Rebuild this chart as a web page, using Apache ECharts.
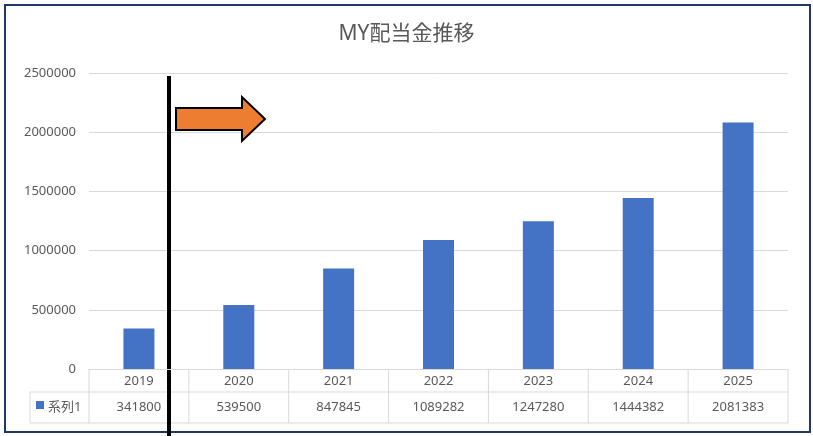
<!DOCTYPE html>
<html>
<head>
<meta charset="utf-8">
<script src="https://cdn.jsdelivr.net/npm/echarts@6/dist/echarts.min.js"></script>
<style>
  html, body { margin: 0; padding: 0; background: #fff; }
  #chart { width: 813px; height: 436px; }
</style>
</head>
<body>
<div id="chart"></div>
<script>
const title = 'MY配当金推移'
const seriesName = '系列1'
const years = ['2019', '2020', '2021', '2022', '2023', '2024', '2025']
const amounts = [341800, 539500, 847845, 1089282, 1247280, 1444382, 2081383]

const font = '"Noto Sans", "Noto Sans CJK JP", sans-serif'
const textColor = '#595959'
const lineColor = '#d9d9d9'

const chart = echarts.init(document.getElementById('chart'))

chart.setOption({
    animation: false,
    backgroundColor: '#fff',
    textStyle: { fontFamily: font },
    title: {
        text: title,
        left: 'center',
        top: 19,
        textStyle: { fontSize: 21, fontWeight: 'normal', color: textColor, fontFamily: font }
    },
    grid: { left: 89, right: 25, top: 73, bottom: 67 },
    xAxis: {
        type: 'category',
        data: years,
        axisLine: { lineStyle: { color: lineColor } },
        axisTick: { show: false },
        axisLabel: { show: false }
    },
    yAxis: {
        type: 'value',
        min: 0,
        max: 2500000,
        interval: 500000,
        axisLabel: { color: textColor, fontSize: 13, margin: 13, formatter: v => String(v) },
        splitLine: { lineStyle: { color: lineColor } }
    },
    series: [{
        name: seriesName,
        type: 'bar',
        data: amounts,
        barWidth: 31,
        itemStyle: { color: '#4472C4' }
    }]
})

// data table under the plot, placed from the category scale
const rect = chart.getModel().getComponent('grid').coordinateSystem.getRect()
const x0 = rect.x, x1 = rect.x + rect.width, yTop = rect.y + rect.height
const row1 = yTop + 23, row2 = yTop + 54
const legendLeft = 30
const step = rect.width / years.length

const g = []
const line = (a, b, c, d) => ({
    type: 'line', silent: true,
    shape: { x1: a, y1: b, x2: c, y2: d },
    style: { stroke: lineColor, lineWidth: 1 }
})
g.push(line(legendLeft, row1, x1, row1))
g.push(line(legendLeft, row2, x1, row2))
g.push(line(legendLeft, row1, legendLeft, row2))
for (let i = 0; i <= years.length; i++) {
    const x = x0 + i * step
    g.push(line(x, yTop, x, row2))
}
years.forEach((y, i) => {
    const cx = chart.convertToPixel({ xAxisIndex: 0 }, y)
    g.push({
        type: 'text', silent: true, x: cx, y: (yTop + row1) / 2 + 1,
        style: { text: y, fill: textColor, font: '13px ' + font, align: 'center', verticalAlign: 'middle' }
    })
    g.push({
        type: 'text', silent: true, x: cx, y: (row1 + row2) / 2,
        style: { text: String(amounts[i]), fill: textColor, font: '13px ' + font, align: 'center', verticalAlign: 'middle' }
    })
})
g.push({
    type: 'rect', silent: true,
    shape: { x: 36, y: 401, width: 8, height: 8 },
    style: { fill: '#4472C4' }
})
g.push({
    type: 'text', silent: true, x: 48, y: (row1 + row2) / 2,
    style: { text: seriesName, fill: textColor, font: '13px ' + font, verticalAlign: 'middle' }
})

// frame
g.push({
    type: 'rect', silent: true,
    shape: { x: 5, y: 5, width: 805, height: 427 },
    style: { fill: 'none', stroke: '#1F3864', lineWidth: 2 }
})

// annotations
g.push({
    type: 'line', silent: true,
    shape: { x1: 169, y1: 76, x2: 169, y2: 436 },
    style: { stroke: '#000', lineWidth: 4 }
})
g.push({
    type: 'polygon', silent: true,
    shape: { points: [[176, 108], [242, 108], [242, 97], [265, 119], [242, 141], [242, 130], [176, 130]] },
    style: { fill: '#ED7D31', stroke: '#000', lineWidth: 2 }
})

chart.setOption({ graphic: g })
</script>
</body>
</html>
